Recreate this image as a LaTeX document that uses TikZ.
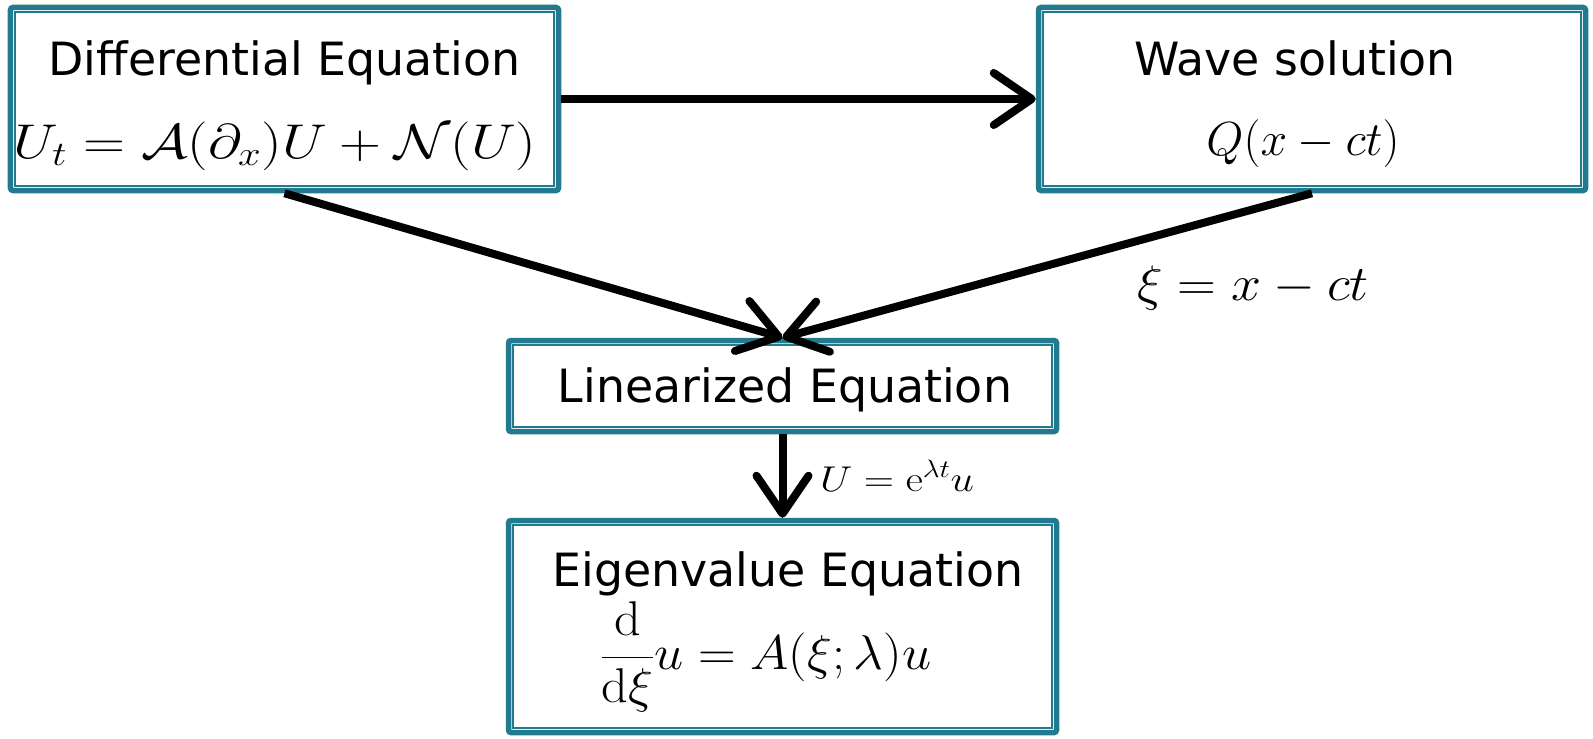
\RequirePackage{fix-cm}
\documentclass[tikz,border=0pt]{standalone}
\usepackage[no-math]{fontspec}
\newfontfamily\dejavu{DejaVu Sans}
\usetikzlibrary{arrows.meta}
\definecolor{boxteal}{RGB}{33,122,142}
\tikzset{
  box/.style={draw=boxteal, line width=5.5bp, rounded corners=2.5bp, fill=white, inner sep=0pt},
  innerline/.style={draw=boxteal, line width=2bp},
  lbl/.style={anchor=base, inner sep=0pt, font=\dejavu\fontsize{46}{55}\selectfont},
  eq/.style={anchor=base, inner sep=0pt},
  arr/.style={line width=8bp, -{Straight Barb[length=38bp,width=52bp,round]}},
}
\begin{document}
\begin{tikzpicture}[x=1bp,y=-1bp]
\useasboundingbox (0,0) rectangle (1593,739);
% boxes
\node[box, minimum width=548bp, minimum height=183bp] (b1) at (284.5,99) {};
\node[box, minimum width=547bp, minimum height=183bp] (b2) at (1312,99) {};
\node[box, minimum width=548bp, minimum height=91bp] (b3) at (782.5,386) {};
\node[box, minimum width=548bp, minimum height=212bp] (b4) at (782.5,626.5) {};
\draw[innerline] ([shift={(7,7)}]b1.north west) rectangle ([shift={(-7,-7)}]b1.south east);
\draw[innerline] ([shift={(7,7)}]b2.north west) rectangle ([shift={(-7,-7)}]b2.south east);
\draw[innerline] ([shift={(7,7)}]b3.north west) rectangle ([shift={(-7,-7)}]b3.south east);
\draw[innerline] ([shift={(7,7)}]b4.north west) rectangle ([shift={(-7,-7)}]b4.south east);
% texts
\node[lbl] (t1) at (284.5,76) {Differential Equation};
\node[eq] (m1) at (275,158) {\fontsize{49}{59}\selectfont\scalebox{1.19}[1]{$U_t=\mathcal{A}(\partial_x)U+\mathcal{N}(U)$}};
\node[lbl] (t2) at (1295,76) {Wave solution};
\node[eq] (m2) at (1303,155) {\fontsize{48}{58}\selectfont$Q(x-ct)$};
\node[lbl] (t3) at (785,402) {Linearized Equation};
\node[lbl] (t4) at (788,586) {Eigenvalue Equation};
\node[eq] (m4) at (766,669) {\fontsize{49}{59}\selectfont\scalebox{1.07}[1]{$\displaystyle\frac{\mathrm{d}}{\mathrm{d}\xi}u=A(\xi;\lambda)u$}};
% arrows
\draw[arr] (b1.east) -- (b2.west);
\draw[arr] (b1.south) -- (b3.north);
\draw[arr] (b2.south) -- (b3.north);
\draw[arr] (b3.south) -- (b4.north);
% labels
\node[eq] (l1) at (1253,300) {\fontsize{50}{60}\selectfont\scalebox{1.08}[1]{$\xi=x-ct$}};
\node[eq] (l2) at (897,491) {\fontsize{36}{43}\selectfont\scalebox{1.17}[1]{$U=\mathrm{e}^{\lambda t}u$}};
\end{tikzpicture}
\end{document}
